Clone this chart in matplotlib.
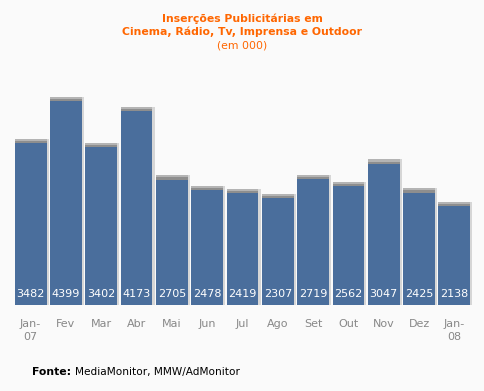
import matplotlib
matplotlib.use("Agg")
import matplotlib.pyplot as plt

# data
months = ["Jan-\n07", "Fev", "Mar", "Abr", "Mai", "Jun", "Jul", "Ago",
          "Set", "Out", "Nov", "Dez", "Jan-\n08"]
values = [3482, 4399, 3402, 4173, 2705, 2478, 2419, 2307, 2719, 2562,
          3047, 2425, 2138]

BG = "#fafafa"
BAR = "#4a6e9c"
ORANGE = "#ff6600"

plt.rcParams["font.family"] = "DejaVu Sans"

W, H = 485, 391
fig = plt.figure(figsize=(W / 100, H / 100), dpi=100, facecolor=BG)
# axes placed in pixel terms: bars from x~13 to ~472, baseline at y=305
ax = fig.add_axes([13 / W, 1 - 305 / H, 459 / W, 225 / H], facecolor=BG)
ymax = 4850
ax.set_xlim(-0.5, len(values) - 0.5)
ax.set_ylim(0, ymax)
ax.axis("off")

x = range(len(values))
cap = 90  # gray top cap height in data units (~4 px)
# soft shadow to the right / around
ax.bar([i + 0.04 for i in x], [v + cap for v in values], width=0.94,
       color="#d6d6d6", zorder=1)
# gray cap on top
ax.bar(x, [v + cap for v in values], width=0.9, color="#b4b4b4", zorder=2)
ax.bar(x, [v + cap * 0.5 for v in values], width=0.9, color="#8e8e8e", zorder=2)
bars = ax.bar(x, values, width=0.9, color=BAR, zorder=3)

for i, v in enumerate(values):
    ax.text(i, 240, str(v), ha="center", va="center", color="white",
            fontsize=8, zorder=4)

for i, m in enumerate(months):
    fig.text((13 + (i + 0.5) * 459 / 13) / W, 1 - 319 / H, m, ha="center",
             va="top", color="#888888", fontsize=8, linespacing=1.35)

fig.text(0.5, 1 - 19 / H, "Inserções Publicitárias em", ha="center",
         va="center", color=ORANGE, fontsize=7.8, fontweight="bold")
fig.text(0.5, 1 - 32 / H, "Cinema, Rádio, Tv, Imprensa e Outdoor",
         ha="center", va="center", color=ORANGE, fontsize=7.8,
         fontweight="bold")
fig.text(0.5, 1 - 45 / H, "(em 000)", ha="center", va="center",
         color=ORANGE, fontsize=7.8)

fig.text(32 / W, 1 - 372 / H, "Fonte:", ha="left", va="center",
         color="black", fontsize=7.8, fontweight="bold")
fig.text(75 / W, 1 - 372 / H, "MediaMonitor, MMW/AdMonitor", ha="left",
         va="center", color="black", fontsize=7.6)

fig.savefig("out.png", dpi=100, facecolor=BG)
